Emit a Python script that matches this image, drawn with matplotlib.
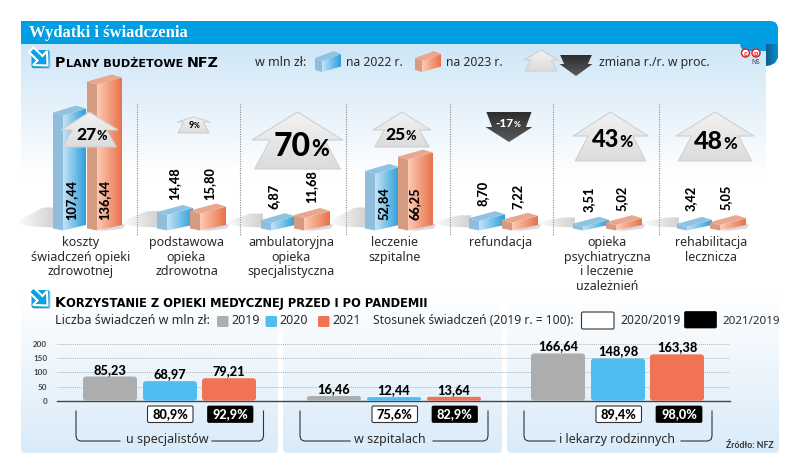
import numpy as np
import matplotlib
matplotlib.use("Agg")
import matplotlib.pyplot as plt
from matplotlib.patches import Polygon, FancyBboxPatch, Rectangle, Circle

# ---------- data ----------
budget_categories = ["koszty\nświadczeń opieki\nzdrowotnej", "podstawowa\nopieka\nzdrowotna",
                     "ambulatoryjna\nopieka\nspecjalistyczna", "leczenie\nszpitalne", "refundacja",
                     "opieka\npsychiatryczna\ni leczenie\nuzależnień", "rehabilitacja\nlecznicza"]
budget_2022 = [107.44, 14.48, 6.87, 52.84, 8.70, 3.51, 3.42]
budget_2023 = [136.44, 15.80, 11.68, 66.25, 7.22, 5.02, 5.05]
budget_change = [27, 9, 70, 25, -17, 43, 48]

use_groups = ["u specjalistów", "w szpitalach", "i lekarzy rodzinnych"]
use_2019 = [85.23, 16.46, 166.64]
use_2020 = [68.97, 12.44, 148.98]
use_2021 = [79.21, 13.64, 163.38]
ratio_2020 = ["80,9%", "75,6%", "89,4%"]
ratio_2021 = ["92,9%", "82,9%", "98,0%"]
y_ticks = [0, 50, 100, 150, 200]


def pl(v):
    return f"{v:.2f}".replace(".", ",")


# ---------- layout ----------
W, H = 788, 468
BASE, K = 227.5, 1.07
blue_x = [(53, 33), (157, 36), (261, 34), (365, 34), (469, 36), (573, 36), (677, 35)]
orange_x = [(87, 35), (190, 36), (294, 36), (398, 35), (502, 36), (606, 36), (710, 36)]
val_blue_pos = [(71, 220), (174, 200), (274, 209), (384, 220), (483, 206), (589, 212), (691, 211)]
val_orange_pos = [(104, 220), (209, 200), (311, 203), (415, 220), (518, 209), (622, 211), (726, 210)]
cat_x = [81, 186.5, 291, 394.5, 501, 607, 711]
seps = [137.5, 240, 346, 450, 553, 659]
# arrow: centre, top, wing y, half width, bottom y, label x, baseline, big size, small size
arrows = [(89.5, 112, 130, 28.5, 147, 76, 140, 12.5, 9),
          (193.5, 117, 122, 16.5, 133, 188.5, 128, 6.5, 5),
          (297.5, 112, 140, 45.5, 169, 274, 156, 23, 15.5),
          (402, 112, 130, 29, 147, 385, 140, 12.5, 9),
          (509, 112, 127, 23.5, 142, 495, 127, 8.5, 6),
          (610.5, 112, 136, 37.5, 161, 592, 147, 17, 11.5),
          (715, 112, 136, 39, 161, 694, 149, 18, 12)]
BLUE = ("#8fbddb", "#90c2e2", "#c4e3f7", "#2d9fd9")
ORANGE = ("#d59c82", "#e9a88d", "#fccab4", "#e9734a")
group_x = [(83, 143, 202), (307, 367, 427), (531, 591, 650)]
BAR_W = 54
box1 = [(147.5, 193), (372, 417.5), (596, 641.5)]
box2 = [(207.5, 253), (432, 477.5), (656, 702)]
brackets = [(76, 120, 212, 263.5, 167), (300, 350, 433, 488, 390), (524, 555, 681, 712, 617)]
UC = {2019: "#adadad", 2020: "#4fbdf0", 2021: "#ef7354"}
TXT = "#2a2a2a"
BODY = 9.0

SANS = "Noto Sans"
BOLD = "Lato"
HEAVY = 900

fig = plt.figure(figsize=(W / 100, H / 100), dpi=100, facecolor="white")


def make_axes(rect, xlim, ylim, z):
    a = fig.add_axes(rect, zorder=z)
    a.set_xlim(*xlim)
    a.set_ylim(*ylim)
    a.set_autoscale_on(False)
    a.patch.set_alpha(0)
    return a


bg = make_axes([0, 0, 1, 1], (0, W), (H, 0), 0)
bars = make_axes([0, 0, 1, 1], (0, W), ((BASE - H) / K, BASE / K), 1)
chart = make_axes([57 / W, 1 - 400.7 / H, (730 - 57) / W, (400.7 - 344) / H], (57, 730), (0, 200), 2)
ov = make_axes([0, 0, 1, 1], (0, W), (H, 0), 3)
for a in (bg, bars, ov):
    a.axis("off")


def grad(ax, verts, c0, c1, horizontal=True, z=1, n=64, ec="none", lw=0):
    c0 = np.array(matplotlib.colors.to_rgba(c0))
    c1 = np.array(matplotlib.colors.to_rgba(c1))
    t = np.linspace(0, 1, n)[:, None]
    arr = c0 * (1 - t) + c1 * t
    arr = arr[None, :, :] if horizontal else arr[:, None, :]
    v = np.array(verts, float)
    poly = Polygon(v, closed=True, fc="none", ec=ec, lw=lw, zorder=z + 0.1)
    ax.add_patch(poly)
    inv = ax.yaxis_inverted()
    ext = [v[:, 0].min(), v[:, 0].max(), v[:, 1].max() if inv else v[:, 1].min(),
           v[:, 1].min() if inv else v[:, 1].max()]
    im = ax.imshow(arr, extent=ext, aspect="auto", origin="upper", zorder=z, interpolation="bilinear")
    im.set_clip_path(poly)
    return im


def cube(ax, x0, w, top, bottom, k, pal, z=2, side=10):
    """k: data units per pixel upward (negative on an inverted axis)."""
    A = (x0, top)
    B = (x0 + side, top - 3 * k)
    C = (x0 + w, top + 4 * k)
    D = (x0 + w - side, top + 7 * k)
    A2 = (x0, bottom - k)
    B2 = (x0 + side, bottom - 3 * k)
    C2 = (x0 + w, bottom + 2.5 * k)
    ax.add_patch(Polygon([A, B, B2, A2], fc=pal[0], ec="none", zorder=z))
    grad(ax, [B, C, C2, B2], pal[2], pal[3], z=z)
    ax.add_patch(Polygon([A, B, C, D], fc=pal[1], ec="none", zorder=z))


def runs(x, y, parts, ax=ov, color="black", family=BOLD, weight=HEAVY, z=10):
    r = fig.canvas.get_renderer()
    for txt, size in parts:
        t = ax.text(x, y, txt, fontsize=size, family=family, weight=weight, color=color,
                    ha="left", va="baseline", zorder=z)
        bb = t.get_window_extent(r)
        x = ax.transData.inverted().transform((bb.x1, 0))[0] + 0.3


def icon(x, y):
    ov.add_patch(FancyBboxPatch((x + 4, y + 4), 18, 18, boxstyle="round,pad=0,rounding_size=2",
                                fc="#c3d3dd", ec="none", zorder=4))
    ov.add_patch(FancyBboxPatch((x + 3, y + 3), 18, 18, boxstyle="round,pad=0,rounding_size=2",
                                fc="#0aa0e2", ec="none", zorder=5))
    ov.add_patch(Polygon([(x + 5, y + 0.5), (x + 0.5, y + 5), (x + 9, y + 13.5), (x + 4.5, y + 18), (x + 19, y + 18.5),
                          (x + 18.5, y + 4), (x + 14, y + 9)],
                         fc="#0aa0e2", ec="white", lw=1.5, joinstyle="miter", zorder=6))


def up_arrow(cx, top, wing, hw, bottom, ax=ov, z=5):
    notch = hw * 0.60
    bw = hw * 0.94
    grad(ax, [(cx, top), (cx + hw, wing), (cx + notch, wing), (cx + bw, bottom), (cx - bw, bottom),
              (cx - notch, wing), (cx - hw, wing)], "#f2f2f2", "#dcdcdc", horizontal=False, z=z,
         ec="#d0d0d0", lw=0.8)


def down_arrow(cx, top, wing, hw, tip, ax=ov, z=5):
    inner = hw * 0.72
    grad(ax, [(cx - hw * 0.96, top), (cx + hw * 0.96, top), (cx + inner, wing), (cx + hw, wing), (cx, tip),
              (cx - hw, wing), (cx - inner, wing)], "#2d2d2d", "#5a5a5a", horizontal=False, z=z)


# ---------- backgrounds ----------
grad(bg, [(21, 44), (766, 44), (766, 178), (21, 178)], "#cfe6f7", "#ffffff", horizontal=False, z=0)
bg.add_patch(Rectangle((21, 21), 730, 23, fc="#009fe3", ec="none", zorder=1))
bg.add_patch(FancyBboxPatch((740, 21), 38, 30, boxstyle="round,pad=0,rounding_size=8", fc="#009fe3", ec="none", zorder=0.9))
grad(bg, [(766, 44), (778, 44), (778, 58), (775, 63), (770, 65.5), (766, 66)], "#0a5f92", "#0b8ccb", z=1.2)
for x0, x1 in [(21, 278), (283, 502), (507, 779)]:
    grad(bg, [(x0, 292), (x1, 292), (x1, 449), (x1 - 1, 452), (x1 - 4, 453), (x0 + 4, 453), (x0 + 1, 452), (x0, 449)],
         "#ffffff", "#d9ebf9", horizontal=False, z=0)

ov.text(29, 37, "Wydatki i świadczenia", family="Liberation Serif", weight="bold", fontsize=12,
        color="white", ha="left", va="baseline")

# ---------- top section ----------
icon(28.5, 47)
runs(55, 67, [("P", 10.3), ("LANY BUDŻETOWE ", 8.1), ("NFZ", 10.3)], family="DejaVu Sans", weight="bold")
ov.text(255, 66, "w mln zł:", family=SANS, fontsize=BODY, color=TXT, va="baseline")
cube(ov, 315, 26, 58, 69, -1, BLUE, z=4, side=7)
ov.text(346, 66, "na 2022 r.", family=SANS, fontsize=BODY * 0.97, color=TXT, va="baseline")
cube(ov, 415, 26, 58, 69, -1, ORANGE, z=4, side=7)
ov.text(446, 66, "na 2023 r.", family=SANS, fontsize=BODY * 0.97, color=TXT, va="baseline")
up_arrow(541, 50, 60, 17, 71)
down_arrow(576, 55, 64, 16.5, 76)
ov.text(599, 66, "zmiana r./r. w proc.", family=SANS, fontsize=BODY * 0.98, color=TXT, va="baseline")
for cx, l in ((745.5, "c"), (756, "p")):
    ov.add_patch(Circle((cx, 53), 4, fc="white", ec="#d8262c", lw=1.1, zorder=6))
    ov.text(cx, 53.2, l, color="#d8262c", fontsize=5.5, ha="center", va="center", family=BOLD, weight="bold", zorder=7)
ov.text(756, 62.5, "NS", fontsize=4.8, family=SANS, ha="center", va="center", color="#333333")

for x in seps:
    bg.plot([x, x], [104, 236], color="#8a8a8a", lw=0.8, ls=(0, (1, 1.2)), zorder=1)

for i in range(len(budget_2022)):
    xb, wb = blue_x[i]
    xo, wo = orange_x[i]
    k = 1 / K
    top_max = max(budget_2022[i], budget_2023[i])
    sh = min(20, 7 + top_max * 0.6) * k
    grad(bars, [(xb - 38, 5 * k), (xb - 10, sh), (xb + 2, sh), (xb + 2, 0), (xb - 22, k)],
         (0.7, 0.7, 0.7, 0), (0.7, 0.7, 0.7, 0.6), z=1)
    bars.add_patch(Polygon([(xo + wo - 4, 5 * k), (xo + wo + 3, 3 * k), (xo + wo + 1, -k), (xo + 12, -4 * k)],
                           fc="#dadada", ec="none", zorder=1))
    cube(bars, xb, wb, budget_2022[i], 0, k, BLUE, z=2)
    cube(bars, xo, wo, budget_2023[i], 0, k, ORANGE, z=3)
    for (px, py), v in ((val_blue_pos[i], budget_2022[i]), (val_orange_pos[i], budget_2023[i])):
        ov.text(px, py, pl(v), rotation=90, rotation_mode="anchor", ha="left", va="center", family=BOLD,
                weight=HEAVY, fontsize=9.2, color="black", zorder=9)
    for j, line in enumerate(budget_categories[i].split("\n")):
        ov.text(cat_x[i], 242.5 + j * 14.7, line, family=SANS, fontsize=BODY, color=TXT,
                ha="center", va="center")
    cx, tp, wg, hw, bt, lx, ly, s1, s2 = arrows[i]
    c = budget_change[i]
    if c >= 0:
        up_arrow(cx, tp, wg, hw, bt)
        runs(lx, ly, [(str(c), s1), ("%", s2)], z=8)
    else:
        down_arrow(cx, tp, wg, hw, bt)
        runs(lx, ly, [(str(c), s1), ("%", s2)], color="white", z=8)

# ---------- bottom section ----------
icon(28.5, 287)
runs(55, 307, [("K", 10.3), ("ORZYSTANIE Z OPIEKI MEDYCZNEJ PRZED I PO PANDEMII", 8.3)], family="DejaVu Sans", weight="bold")
ov.text(55, 324.5, "Liczba świadczeń w mln zł:", family=SANS, fontsize=BODY, color=TXT, va="baseline")
for x, yr in ((217, 2019), (265.5, 2020), (318, 2021)):
    ov.add_patch(FancyBboxPatch((x, 316), 11.5, 11, boxstyle="round,pad=0,rounding_size=1.5", fc=UC[yr], ec="none"))
    ov.text(x + 14, 324.5, str(yr), family=SANS, fontsize=BODY, color=TXT, va="baseline")
ov.text(373, 324.5, "Stosunek świadczeń (2019 r. = 100):", family=SANS, fontsize=BODY * 0.97, color=TXT, va="baseline")
ov.add_patch(FancyBboxPatch((581.5, 312), 32.5, 17, boxstyle="round,pad=0,rounding_size=1.5", fc="white", ec="#333333", lw=0.8))
ov.text(620, 324.5, "2020/2019", family=SANS, fontsize=8.7, color=TXT, va="baseline")
ov.add_patch(FancyBboxPatch((684.5, 311.5), 32, 16.5, boxstyle="round,pad=0,rounding_size=1.5", fc="black", ec="black", lw=0.5))
ov.text(722, 323.5, "2021/2019", family=SANS, fontsize=8.3, color=TXT, va="baseline")

chart.set_yticks(y_ticks)
chart.set_xticks([])
chart.tick_params(axis="y", length=0, pad=7, labelsize=5.8, labelcolor="#444444")
for lab in chart.get_yticklabels():
    lab.set_family(BOLD)
    lab.set_weight("bold")
for s in ("top", "right", "left"):
    chart.spines[s].set_visible(False)
chart.spines["bottom"].set_color("#444444")
chart.spines["bottom"].set_linewidth(1.0)
chart.set_axisbelow(True)
chart.grid(axis="y", color="#b5b5b5", lw=0.7, ls=(0, (1, 1)))
yk = 200 / (400.7 - 344)
for g in range(3):
    for j, (vals, yr) in enumerate(((use_2019, 2019), (use_2020, 2020), (use_2021, 2021))):
        v = vals[g]
        x0 = group_x[g][j]
        rad = min(3, v / yk / 2)
        chart.add_patch(FancyBboxPatch((x0, 0), BAR_W, v, boxstyle=f"round,pad=0,rounding_size={rad}",
                                       mutation_aspect=yk, fc=UC[yr], ec="none", zorder=3, clip_on=False))
        chart.annotate(pl(v), (x0 + BAR_W / 2, v), xytext=(0, 0.7), textcoords="offset points", ha="center",
                       va="bottom", family=BOLD, weight=HEAVY, fontsize=9.2, color="black", annotation_clip=False)
    a, b = box1[g]
    ov.add_patch(FancyBboxPatch((a, 406), b - a, 16.5, boxstyle="round,pad=0,rounding_size=1.5", fc="white", ec="#333333", lw=0.8))
    ov.text((a + b) / 2, 414.5, ratio_2020[g], family=BOLD, weight=HEAVY, fontsize=9.2, ha="center", va="center")
    a, b = box2[g]
    ov.add_patch(FancyBboxPatch((a, 406), b - a, 16.5, boxstyle="round,pad=0,rounding_size=1.5", fc="black", ec="black", lw=0.5))
    ov.text((a + b) / 2, 414.5, ratio_2021[g], family=BOLD, weight=HEAVY, fontsize=9.2, ha="center", va="center", color="white")
    l, e1, e2, r, cx = brackets[g]
    ov.plot([l, l, l + 1, l + 4, e1], [411, 436, 439.5, 441, 441], color="#333333", lw=0.8)
    ov.plot([e2, r - 4, r - 1, r, r], [441, 441, 439.5, 436, 411], color="#333333", lw=0.8)
    ov.text(cx, 440, use_groups[g], family=SANS, fontsize=BODY, color=TXT, ha="center", va="center")

ov.text(726, 445, "Źródło: NFZ", family=BOLD, weight="bold", fontsize=6.3, color="#333333", va="center")

fig.savefig("out.png", dpi=100)
